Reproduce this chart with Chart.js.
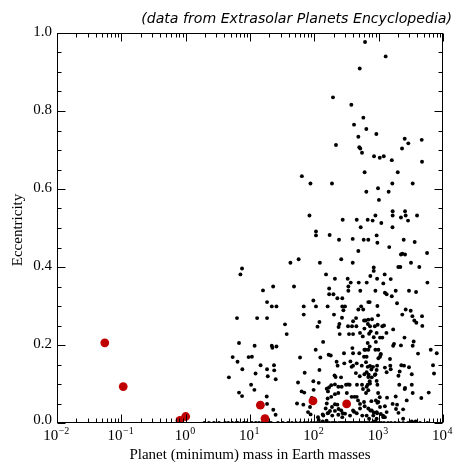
<!DOCTYPE html>
<html>
<head>
<meta charset="utf-8">
<script src="https://cdn.jsdelivr.net/npm/chart.js@4.4.1/dist/chart.umd.min.js"></script>
<style>
  html, body { margin: 0; padding: 0; background: #fff; }
</style>
</head>
<body>
<canvas id="chart" width="455" height="462"></canvas>
<script>
// solar system planets (red)
const solarNames = ['Mercury', 'Venus', 'Earth', 'Mars', 'Jupiter', 'Saturn', 'Uranus', 'Neptune']
const solarMass = [0.0553, 0.815, 1.0, 0.107, 317.8, 95.2, 14.5, 17.1]
const solarEcc = [0.2056, 0.0068, 0.0167, 0.0934, 0.0489, 0.0565, 0.0457, 0.0113]

// exoplanets, [mass in Earth masses, eccentricity]
const highEcc = [
  [614,0.977],[1285,0.940],[508,0.909],[195,0.835],[376,0.816],[578,0.783],[414,0.765],[643,0.754],
  [483,0.734],[920,0.741],[217,0.713],[500,0.707],[518,0.704],[551,0.693],[847,0.684],[1040,0.680],
  [1200,0.684],[1600,0.674],[2540,0.729],[2890,0.717],[2307,0.704],[4670,0.726],[4720,0.670],[605,0.643],
  [1980,0.643],[64,0.633],[87,0.614],[188,0.614],[1630,0.614],[3380,0.614],[977,0.602],[643,0.593],
  [1430,0.593],[1010,0.572],[1650,0.543],[1650,0.532],[2570,0.543],[2630,0.532],[2220,0.527],[2860,0.519],
  [3950,0.532],[84,0.532],[276,0.521],[456,0.521],[675,0.521],[806,0.519],[890,0.532],[1100,0.513],
  [526,0.502],[1640,0.502],[106,0.491],[106,0.481],[173,0.482],[242,0.470],[395,0.472],[585,0.470],
  [690,0.470],[930,0.481],[955,0.462],[1460,0.451],[2450,0.470],[3630,0.464]
]
const midEcc = [
  [483,0.441],[2220,0.432],[2570,0.432],[2330,0.434],[5650,0.436],[7.52,0.396],[7.1,0.381],[42.5,0.411],
  [57,0.420],[122,0.411],[262,0.420],[395,0.411],[838,0.399],[838,0.390],[2020,0.400],[2170,0.400],
  [3180,0.411],[4280,0.400],[152,0.381],[209,0.370],[330,0.370],[368,0.360],[338,0.350],[490,0.360],
  [652,0.360],[742,0.377],[945,0.370],[1240,0.381],[1180,0.358],[1540,0.369],[5720,0.360],[15.9,0.340],
  [22.9,0.350],[48.3,0.350],[170,0.345],[170,0.330],[198,0.330],[228,0.320],[272,0.320],[338,0.339],
  [518,0.339],[890,0.339],[1250,0.334],[1330,0.330],[1600,0.325],[1840,0.339],[2960,0.339],[3810,0.336],
  [1930,0.307],[18.4,0.310],[21.8,0.299],[25.8,0.299],[68.4,0.299],[96.5,0.314],[106,0.299],[161,0.299],
  [272,0.299],[300,0.299],[534,0.299],[575,0.291],[690,0.310],[725,0.310],[955,0.300],[483,0.291],
  [283,0.289],[2630,0.291],[3150,0.288],[68.4,0.278],[202,0.278],[269,0.270],[445,0.269],[400,0.261],
  [592,0.263],[690,0.265],[788,0.266],[980,0.276],[965,0.252],[1211,0.250],[2330,0.278],[3340,0.274],
  [3580,0.263],[4720,0.274],[6.28,0.269],[12.9,0.269],[18.4,0.269],[120,0.259],[112,0.247],[245,0.254],
  [238,0.246],[334,0.248],[385,0.248],[450,0.248],[600,0.242],[870,0.248],[1140,0.248],[1680,0.240],
  [4770,0.249],[3850,0.257],[35,0.253],[680,0.254],[625,0.263],[734,0.248]
]
const lowEcc = [
  [37.2,0.228],[248,0.228],[346,0.228],[400,0.228],[513,0.231],[566,0.222],[752,0.235],[930,0.231],
  [838,0.220],[1050,0.219],[1140,0.219],[2520,0.219],[3500,0.209],[905,0.208],[1680,0.198],[1733,0.203],
  [2220,0.199],[3380,0.198],[137,0.208],[6.75,0.205],[11.8,0.198],[21.8,0.198],[22.3,0.193],[25.8,0.196],
  [105,0.188],[167,0.175],[180,0.173],[289,0.179],[390,0.192],[400,0.179],[500,0.179],[600,0.188],
  [625,0.188],[890,0.188],[1070,0.175],[592,0.170],[650,0.170],[1500,0.164],[6450,0.188],[8000,0.179],
  [4090,0.178],[5.38,0.169],[6.4,0.157],[9.5,0.169],[10.7,0.170],[7.6,0.138],[14.6,0.148],[12.2,0.127],
  [18.4,0.138],[23.6,0.148],[23.8,0.135],[18.9,0.120],[25.1,0.112],[60,0.168],[124,0.168],[222,0.157],
  [230,0.147],[292,0.153],[364,0.158],[400,0.147],[380,0.144],[456,0.153],[546,0.147],[636,0.156],
  [675,0.144],[734,0.146],[817,0.144],[945,0.147],[1515,0.147],[1540,0.138],[2250,0.148],[2478,0.147],
  [2960,0.143],[7000,0.148],[7250,0.127],[70.8,0.129],[120,0.136],[206,0.122],[214,0.118],[260,0.117],
  [442,0.128],[508,0.120],[600,0.125],[700,0.124],[780,0.117],[890,0.125],[2120,0.132],[2030,0.121],
  [4.7,0.117],[710,0.229],[1320,0.231],[675,0.205],[725,0.196],[690,0.188],[990,0.188],[1080,0.177],
  [1050,0.170],[990,0.166],[1250,0.142],[1330,0.130],[930,0.136],[870,0.123],[770,0.137],[650,0.130],
  [690,0.118],[3270,0.125]
]
const nearCircular = [
  [10.4,0.098],[11.7,0.085],[55.8,0.104],[96.5,0.107],[117,0.103],[169,0.091],[183,0.097],[163,0.081],
  [209,0.099],[236,0.093],[266,0.093],[311,0.098],[334,0.099],[354,0.098],[460,0.098],[551,0.098],
  [571,0.087],[675,0.098],[725,0.107],[930,0.108],[955,0.098],[2090,0.098],[3270,0.098],[2540,0.087],
  [63.5,0.081],[69.7,0.078],[209,0.074],[320,0.077],[380,0.067],[420,0.067],[456,0.067],[636,0.077],
  [980,0.077],[3380,0.077],[4600,0.064],[6000,0.078],[6.75,0.078],[7.52,0.069],[18.2,0.068],[53.8,0.050],
  [67.5,0.047],[85.7,0.041],[79.8,0.028],[87.5,0.022],[135,0.022],[161,0.025],[175,0.031],[209,0.048],
  [188,0.041],[228,0.047],[238,0.036],[262,0.032],[276,0.025],[400,0.032],[414,0.029],[478,0.058],
  [513,0.049],[592,0.054],[605,0.043],[770,0.056],[905,0.058],[955,0.052],[1040,0.066],[1350,0.065],
  [1650,0.049],[1930,0.047],[1860,0.036],[2730,0.058],[2030,0.026],[2400,0.035],[742,0.032],[838,0.027],
  [945,0.025],[1080,0.023],[1170,0.019],[1250,0.015],[18.4,0.049],[25,0.021],[114,0.015],[117,0.008],
  [23.0,0.034],[91,0.064],[97.5,0.085],[161,0.063],[156,0.050],[138,0.019],[135,0.004],[155,0.006],
  [734,0.101],[650,0.093],[690,0.084],[990,0.054],[1050,0.041],[930,0.028],[780,0.032],[690,0.037],
  [650,0.019],[825,0.019],[1250,0.043],[1330,0.028],[1180,0.015],[930,0.011],[855,0.004],[710,0.011],
  [1840,0.068],[2400,0.011],[3270,0.004],[3750,0.004],[156,0.088],[183,0.067],[236,0.077],[209,0.031],
  [236,0.021],[272,0.015],[300,0.024],[359,0.019],[456,0.025],[513,0.037],[556,0.019],[150,0.037],
  [166,0.026],[190,0.019],[2570,0.090]
]
// planets listed with zero eccentricity (sit on the axis)
const circularMass = [
  1.95,2.3,2.75,3.3,4.1,4.6,5.3,6.1,6.5,8.0,8.9,10.7,12.3,13.8,15.5,19.6,21.2,27.2,32.5,39,45,52,60,
  69.5,77,89,99,110,122,136,152,170,188,202,217,242,260,280,300,322,346,372,400,430,460,495,532,571,
  614,660,710,788,880,977,1090,1211,1397,1560,1800,2070,2400,2860,3545,4393,5700
]

const xTickExps = [-2, -1, 0, 1, 2, 3, 4]
const yTickValues = [0, 0.2, 0.4, 0.6, 0.8, 1.0]
const noteText = '(data from Extrasolar Planets Encyclopedia)'
const xTitle = 'Planet (minimum) mass in Earth masses'
const yTitle = 'Eccentricity'

const exoPoints = highEcc.concat(midEcc, lowEcc, nearCircular)
  .map(p => ({x: p[0], y: p[1]}))
  .concat(circularMass.map(m => ({x: m, y: 0})))
const solarPoints = solarMass.map((m, i) => ({x: m, y: solarEcc[i], name: solarNames[i]}))

const serif = '"Liberation Serif", "Times New Roman", serif'

const framePlugin = {
  id: 'frame',
  afterDraw(chart) {
    const ctx = chart.ctx
    const a = chart.chartArea
    const xs = chart.scales.x
    const ys = chart.scales.y
    const L = Math.round(a.left) + 0.5, R = Math.round(a.right) - 0.5
    const T = Math.round(a.top) + 0.5, B = Math.round(a.bottom) - 0.5
    ctx.save()
    ctx.strokeStyle = '#000'
    ctx.lineWidth = 1
    ctx.strokeRect(L, T, R - L, B - T)

    ctx.beginPath()
    // x ticks, inward on top and bottom
    for (let e = -2; e <= 4; e++) {
      for (let k = 1; k <= 9; k++) {
        if (e == 4 && k > 1) break
        const px = Math.round(xs.getPixelForValue(k * Math.pow(10, e))) + 0.5
        const len = k == 1 ? 8 : 4
        ctx.moveTo(px, B); ctx.lineTo(px, B - len)
        ctx.moveTo(px, T); ctx.lineTo(px, T + len)
      }
    }
    // y ticks every 0.05, major every 0.2
    for (let i = 0; i <= 20; i++) {
      const py = Math.round(ys.getPixelForValue(i * 0.05)) + 0.5
      const len = i % 4 == 0 ? 8 : 4
      ctx.moveTo(L, py); ctx.lineTo(L + len, py)
      ctx.moveTo(R, py); ctx.lineTo(R - len, py)
    }
    ctx.stroke()

    ctx.fillStyle = '#000'
    // y tick labels
    ctx.font = '15px ' + serif
    ctx.textAlign = 'right'
    ctx.textBaseline = 'middle'
    yTickValues.forEach(v => {
      const py = ys.getPixelForValue(v) - (v == 0 ? 3 : 1)
      ctx.fillText(v.toFixed(1), a.left - 5, py)
    })

    // x tick labels: 10 with a raised exponent
    ctx.textAlign = 'left'
    ctx.textBaseline = 'alphabetic'
    xTickExps.forEach(e => {
      const px = xs.getPixelForValue(Math.pow(10, e))
      const exp = e < 0 ? '\u2212' + (-e) : String(e)
      ctx.font = '15px ' + serif
      const w1 = ctx.measureText('10').width
      ctx.font = '10px ' + serif
      const w2 = ctx.measureText(exp).width
      const x0 = px - (w1 + w2) / 2 - 1
      ctx.font = '15px ' + serif
      ctx.fillText('10', x0, 440)
      ctx.font = '10px ' + serif
      ctx.fillText(exp, x0 + w1 + 0.5, 433.5)
    })

    // axis titles
    ctx.font = '15px ' + serif
    ctx.textAlign = 'center'
    ctx.fillText(xTitle, (a.left + a.right) / 2, 459)
    ctx.save()
    ctx.translate(22, (a.top + a.bottom) / 2 + 2)
    ctx.rotate(-Math.PI / 2)
    ctx.fillText(yTitle, 0, 0)
    ctx.restore()

    // note at top right, fitted to its width in the picture
    let size = 13
    ctx.font = 'italic ' + size + 'px "DejaVu Sans", sans-serif'
    size = size * 311 / ctx.measureText(noteText).width
    ctx.font = 'italic ' + size.toFixed(2) + 'px "DejaVu Sans", sans-serif'
    ctx.textAlign = 'right'
    ctx.fillText(noteText, 452, 23)
    ctx.restore()
  }
}

const context = document.getElementById('chart').getContext('2d')
new Chart(context, {
  type: 'scatter',
  data: {
    datasets: [{
      label: 'Solar System',
      data: solarPoints,
      pointRadius: 4.4,
      pointBackgroundColor: '#c00000',
      pointBorderWidth: 0,
      clip: 0
    }, {
      label: 'Exoplanets',
      data: exoPoints,
      pointRadius: 1.95,
      pointBackgroundColor: '#000',
      pointBorderWidth: 0,
      clip: 0
    }]
  },
  options: {
    responsive: false,
    animation: false,
    layout: { padding: { left: 57, right: 12, top: 33, bottom: 39 } },
    plugins: { legend: { display: false }, tooltip: { enabled: false } },
    scales: {
      x: { type: 'logarithmic', min: 0.01, max: 10000, display: false },
      y: { type: 'linear', min: 0, max: 1, display: false }
    }
  },
  plugins: [framePlugin]
})
</script>
</body>
</html>
